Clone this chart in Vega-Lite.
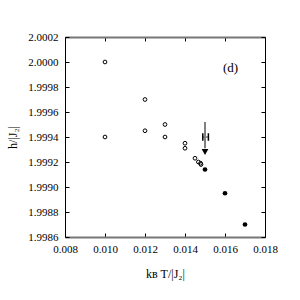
{
  "$schema": "https://vega.github.io/schema/vega-lite/v6.json",
  "width": 200,
  "height": 200,
  "autosize": "none",
  "padding": {"left": 65, "top": 37, "right": 35, "bottom": 63},
  "config": {
    "view": {"stroke": null},
    "font": "Liberation Serif",
    "axis": {
      "grid": false,
      "tickColor": "black",
      "tickWidth": 1,
      "tickSize": -4,
      "labelFlush": false,
      "labelOverlap": false,
      "labelFont": "Liberation Serif",
      "labelFontSize": 11,
      "labelColor": "black",
      "titleFont": "Liberation Serif",
      "titleFontSize": 12,
      "titleFontWeight": "normal",
      "titleColor": "black"
    }
  },
  "datasets": {
    "open": [
      {"t": 0.010, "h": 2.0000},
      {"t": 0.010, "h": 1.9994},
      {"t": 0.012, "h": 1.9997},
      {"t": 0.012, "h": 1.99945},
      {"t": 0.013, "h": 1.9995},
      {"t": 0.013, "h": 1.9994},
      {"t": 0.014, "h": 1.99935},
      {"t": 0.014, "h": 1.99931},
      {"t": 0.0145, "h": 1.99923},
      {"t": 0.01467, "h": 1.9992},
      {"t": 0.01478, "h": 1.99919},
      {"t": 0.0148, "h": 1.99918}
    ],
    "filled": [
      {"t": 0.015, "h": 1.99914},
      {"t": 0.016, "h": 1.99895},
      {"t": 0.017, "h": 1.9987}
    ],
    "shaft": [{"t": 0.015, "h1": 1.99952, "h2": 1.99931}],
    "head": [{"t": 0.015, "h": 1.99928}],
    "err": [{"t1": 0.01489, "t2": 0.01517, "h": 1.9994}],
    "caps": [
      {"t": 0.01489, "h1": 1.99937, "h2": 1.99943},
      {"t": 0.01517, "h1": 1.99937, "h2": 1.99943}
    ],
    "label": [{"t": 0.01628, "h": 1.99995, "txt": "(d)"}]
  },
  "layer": [
    {
      "data": {"name": "open"},
      "mark": {"type": "point", "shape": "circle", "filled": false, "stroke": "black", "strokeWidth": 1, "size": 14, "opacity": 1},
      "encoding": {
        "x": {"field": "t", "type": "quantitative",
          "scale": {"domain": [0.008, 0.018], "nice": false, "zero": false},
          "axis": {"orient": "bottom", "values": [0.008, 0.010, 0.012, 0.014, 0.016, 0.018], "format": ".3f",
            "domainColor": "#777777", "domainWidth": 2, "labelPadding": 10,
            "title": "kʙ T/|J₂|", "titlePadding": 14}},
        "y": {"field": "h", "type": "quantitative",
          "scale": {"domain": [1.9986, 2.0002], "nice": false, "zero": false},
          "axis": {"orient": "left", "values": [1.9986, 1.9988, 1.999, 1.9992, 1.9994, 1.9996, 1.9998, 2.0, 2.0002], "format": ".4f",
            "domainColor": "black", "domainWidth": 1, "labelPadding": 11,
            "title": "h/|J₂|", "titlePadding": 8}}
      }
    },
    {
      "data": {"name": "filled"},
      "mark": {"type": "point", "shape": "circle", "filled": true, "color": "black", "size": 22, "opacity": 1},
      "encoding": {
        "x": {"field": "t", "type": "quantitative",
          "axis": {"orient": "top", "values": [0.008, 0.010, 0.012, 0.014, 0.016, 0.018], "labels": false,
            "domainColor": "#777777", "domainWidth": 2, "title": null}},
        "y": {"field": "h", "type": "quantitative",
          "axis": {"orient": "right", "values": [1.9986, 1.9988, 1.999, 1.9992, 1.9994, 1.9996, 1.9998, 2.0, 2.0002], "labels": false,
            "domainColor": "black", "domainWidth": 1, "title": null}}
      }
    },
    {
      "data": {"name": "shaft"},
      "mark": {"type": "rule", "color": "#808080", "strokeWidth": 2},
      "encoding": {
        "x": {"field": "t", "type": "quantitative", "axis": null},
        "y": {"field": "h1", "type": "quantitative", "axis": null},
        "y2": {"field": "h2"}
      }
    },
    {
      "data": {"name": "head"},
      "mark": {"type": "point", "shape": "triangle-down", "filled": true, "color": "black", "size": 45, "opacity": 1},
      "encoding": {
        "x": {"field": "t", "type": "quantitative", "axis": null},
        "y": {"field": "h", "type": "quantitative", "axis": null}
      }
    },
    {
      "data": {"name": "err"},
      "mark": {"type": "rule", "color": "#808080", "strokeWidth": 1.5},
      "encoding": {
        "x": {"field": "t1", "type": "quantitative", "axis": null},
        "x2": {"field": "t2"},
        "y": {"field": "h", "type": "quantitative", "axis": null}
      }
    },
    {
      "data": {"name": "caps"},
      "mark": {"type": "rule", "color": "black", "strokeWidth": 1.5},
      "encoding": {
        "x": {"field": "t", "type": "quantitative", "axis": null},
        "y": {"field": "h1", "type": "quantitative", "axis": null},
        "y2": {"field": "h2"}
      }
    },
    {
      "data": {"name": "label"},
      "mark": {"type": "text", "font": "Liberation Serif", "fontSize": 13, "color": "black", "align": "center", "baseline": "middle"},
      "encoding": {
        "x": {"field": "t", "type": "quantitative", "axis": null},
        "y": {"field": "h", "type": "quantitative", "axis": null},
        "text": {"field": "txt"}
      }
    }
  ],
  "resolve": {"axis": {"x": "independent", "y": "independent"}}
}
